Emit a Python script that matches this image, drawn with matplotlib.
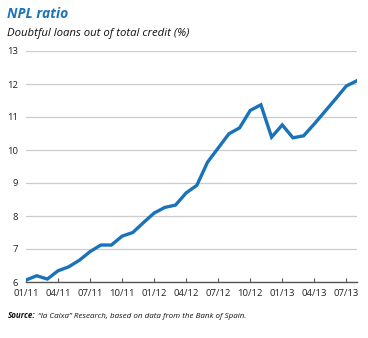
import numpy as np
import matplotlib.pyplot as plt

# NPL ratio, monthly, 01/11 .. 08/13
months = np.arange(32)
npl = [6.06, 6.19, 6.09, 6.34, 6.46, 6.66, 6.92, 7.12, 7.12, 7.39,
       7.50, 7.80, 8.09, 8.26, 8.33, 8.70, 8.93, 9.63, 10.06, 10.49,
       10.67, 11.20, 11.37, 10.39, 10.76, 10.37, 10.43, 10.79, 11.17, 11.55,
       11.94, 12.10]
tick_pos = [0, 3, 6, 9, 12, 15, 18, 21, 24, 27, 30]
tick_labels = ['01/11', '04/11', '07/11', '10/11', '01/12', '04/12',
               '07/12', '10/12', '01/13', '04/13', '07/13']

blue = '#1a72b8'
font = 'Open Sans'

fig = plt.figure(figsize=(3.68, 3.38), dpi=100)
ax = fig.add_axes([26/368, 1-282/338, 331/368, 231/338])

ax.plot(months, npl, color=blue, lw=2.4, solid_joinstyle='miter', zorder=3)

ax.set_xlim(0, 31)
ax.set_ylim(6, 13)
ax.set_yticks(range(6, 14))
ax.set_xticks(tick_pos)
ax.set_xticklabels(tick_labels, fontfamily=font, fontsize=6.8, color='#222222')
ax.set_yticklabels([str(v) for v in range(6, 14)], fontfamily=font, fontsize=6.8, color='#222222')
ax.yaxis.grid(True, color='#cccccc', lw=0.9)
for s in ['top', 'right', 'left']:
    ax.spines[s].set_visible(False)
ax.spines['bottom'].set_color('#555555')
ax.spines['bottom'].set_linewidth(1.0)
ax.tick_params(axis='y', length=0, pad=6)
ax.tick_params(axis='x', direction='in', length=3, color='#555555', pad=5)
ax.set_axisbelow(True)

fig.text(7/368, 1-18/338, 'NPL ratio', fontfamily=font, fontsize=10,
         fontweight='bold', fontstyle='italic', color=blue)
fig.text(7/368, 1-36/338, 'Doubtful loans out of total credit (%)', fontfamily=font,
         fontsize=8.2, fontstyle='italic', color='#111111')

t1 = fig.text(8/368, 1-318/338, 'Source:', fontfamily=font, fontsize=5.8,
              fontweight='bold', fontstyle='italic', color='#111111')
fig.canvas.draw()
bb = t1.get_window_extent()
x2 = (bb.x1 + 2) / fig.bbox.width
fig.text(x2, 1-318/338, '\u201cla Caixa\u201d Research, based on data from the Bank of Spain.',
         fontfamily=font, fontsize=5.8, fontstyle='italic', color='#111111')

fig.savefig('out.png', dpi=100)
